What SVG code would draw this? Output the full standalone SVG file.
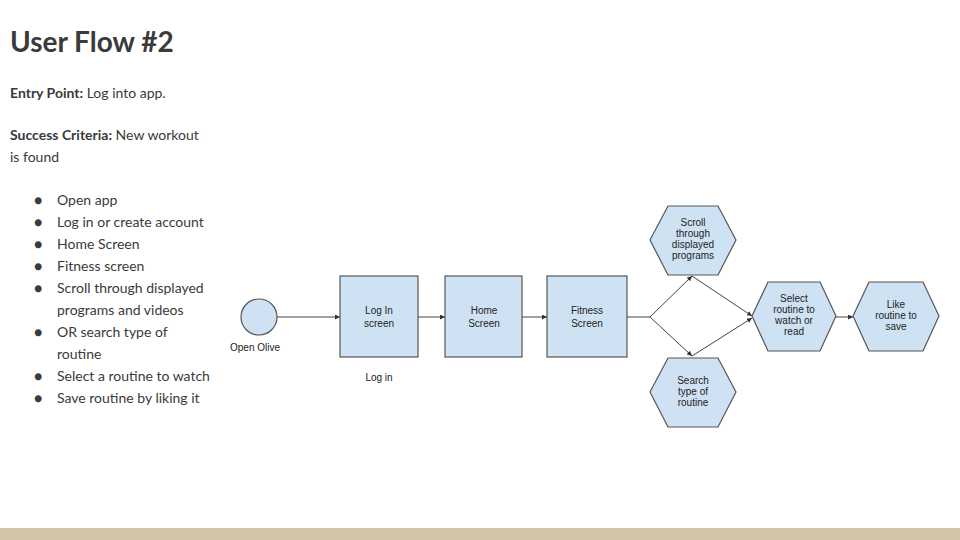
<svg xmlns="http://www.w3.org/2000/svg" width="960" height="540" viewBox="0 0 960 540">
<defs>
<style>
.t{font-family:Lato,"Open Sans",sans-serif;fill:#3a3a3a}
.d{font-family:"Liberation Sans",Arial,sans-serif;fill:#222;font-size:10px;text-anchor:middle}
.n{fill:#cfe2f3;stroke:#555;stroke-width:1.2}
.c{stroke:#444;stroke-width:1;fill:none;marker-end:url(#a)}
</style>
<marker id="a" viewBox="0 0 6 6" refX="6" refY="3" markerWidth="5" markerHeight="5" orient="auto"><path d="M0,0L6,3L0,6z" fill="#333"/></marker>
</defs>
<rect width="960" height="540" fill="#fff"/>
<rect y="528" width="960" height="12" fill="#d3c6a6"/>
<text class="t" x="10" y="52" font-size="28" font-weight="bold">User Flow #2</text>
<text class="t" x="10" y="98" font-size="14"><tspan font-weight="bold">Entry Point:</tspan> Log into app.</text>
<text class="t" x="10" y="140" font-size="14"><tspan font-weight="bold">Success Criteria:</tspan> New workout</text>
<text class="t" x="10" y="162" font-size="14">is found</text>
<g class="t" font-size="14">
<text x="34" y="205">●</text><text x="57" y="205">Open app</text>
<text x="34" y="227">●</text><text x="57" y="227">Log in or create account</text>
<text x="34" y="249">●</text><text x="57" y="249">Home Screen</text>
<text x="34" y="271">●</text><text x="57" y="271">Fitness screen</text>
<text x="34" y="293">●</text><text x="57" y="293">Scroll through displayed</text>
<text x="57" y="315">programs and videos</text>
<text x="34" y="337">●</text><text x="57" y="337">OR search type of</text>
<text x="57" y="359">routine</text>
<text x="34" y="381">●</text><text x="57" y="381">Select a routine to watch</text>
<text x="34" y="403">●</text><text x="57" y="403">Save routine by liking it</text>
</g>
<g id="connectors">
<line class="c" x1="277" y1="317" x2="340" y2="317"/>
<line class="c" x1="418" y1="317" x2="445" y2="317"/>
<line class="c" x1="522" y1="317" x2="547" y2="317"/>
<line x1="627" y1="317" x2="650" y2="317" stroke="#444"/>
<line class="c" x1="650" y1="317" x2="692" y2="276"/>
<line class="c" x1="650" y1="317" x2="692" y2="356"/>
<line class="c" x1="692" y1="276" x2="752" y2="316"/>
<line class="c" x1="692" y1="356" x2="752" y2="318"/>
<line class="c" x1="835" y1="317" x2="853" y2="317"/>
</g>
<g id="open"><circle class="n" cx="259" cy="317" r="18"/><text class="d" x="255" y="351" font-size="8">Open Olive</text></g>
<g id="login"><rect class="n" x="340" y="276" width="78" height="81"/><text class="d" x="379" y="314">Log In</text><text class="d" x="379" y="327">screen</text><text class="d" x="379" y="381" font-size="8">Log in</text></g>
<g id="home"><rect class="n" x="445" y="276" width="77" height="81"/><text class="d" x="484" y="314">Home</text><text class="d" x="484" y="327">Screen</text></g>
<g id="fitness"><rect class="n" x="547" y="276" width="80" height="81"/><text class="d" x="587" y="314">Fitness</text><text class="d" x="587" y="327">Screen</text></g>
<g id="scroll"><polygon class="n" points="650,240 668,206 718,206 736,240 718,275 668,275"/><text class="d" x="693" y="226" font-size="8">Scroll</text><text class="d" x="693" y="237" font-size="8">through</text><text class="d" x="693" y="248" font-size="8">displayed</text><text class="d" x="693" y="259" font-size="8">programs</text></g>
<g id="search"><polygon class="n" points="650,392 668,358 718,358 736,392 718,427 668,427"/><text class="d" x="693" y="384" font-size="8">Search</text><text class="d" x="693" y="395" font-size="8">type of</text><text class="d" x="693" y="406" font-size="8">routine</text></g>
<g id="select"><polygon class="n" points="752,316 768,282 820,282 836,316 820,351 768,351"/><text class="d" x="794" y="302" font-size="8">Select</text><text class="d" x="794" y="313" font-size="8">routine to</text><text class="d" x="794" y="324" font-size="8">watch or</text><text class="d" x="794" y="335" font-size="8">read</text></g>
<g id="like"><polygon class="n" points="853,316 869,282 923,282 939,316 923,351 869,351"/><text class="d" x="896" y="308" font-size="8">Like</text><text class="d" x="896" y="319" font-size="8">routine to</text><text class="d" x="896" y="330" font-size="8">save</text></g>
</svg>
